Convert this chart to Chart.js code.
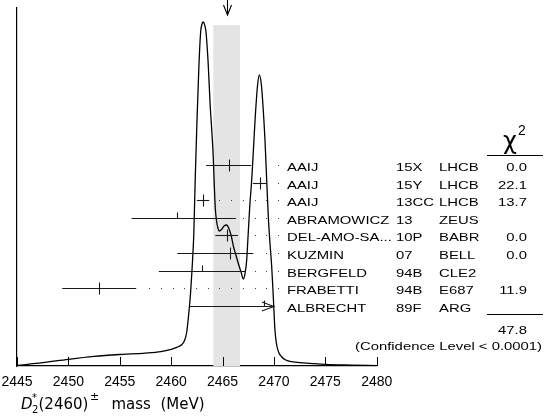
<!DOCTYPE html>
<html>
<head>
<meta charset="utf-8">
<script src="https://cdn.jsdelivr.net/npm/chart.js@4.4.0/dist/chart.umd.min.js"></script>
<style>
html, body { margin: 0; padding: 0; background: #fff; }
#chart { display: block; }
</style>
</head>
<body>
<canvas id="chart" width="549" height="418"></canvas>
<script>
// mass axis ticks (MeV)
var massTicks = [2445, 2450, 2455, 2460, 2465, 2470, 2475, 2480];

// ideogram curve
var curveMass = [2445.0, 2447.5, 2450.0, 2452.5, 2455.0, 2457.5, 2459.0, 2460.0, 2460.6, 2461.05,
    2461.3, 2461.5, 2461.65, 2461.85, 2462.05, 2462.2, 2462.35, 2462.5, 2462.7, 2462.87,
    2463.0, 2463.13, 2463.26, 2463.39, 2463.6, 2463.8, 2463.95, 2464.1, 2464.2, 2464.3,
    2464.42, 2464.55, 2464.68, 2464.9, 2465.15, 2465.4, 2465.6, 2465.85, 2466.05, 2466.3,
    2466.55, 2466.8, 2467.02, 2467.18, 2467.35, 2467.5, 2467.65, 2467.85, 2468.05, 2468.2,
    2468.4, 2468.58, 2468.78, 2468.95, 2469.13, 2469.3, 2469.45, 2469.6, 2469.78, 2469.94,
    2470.1, 2470.25, 2470.45, 2470.76, 2471.1, 2471.56, 2472.5, 2473.5, 2475.0, 2477.5, 2480.0];
var curveHeight = [0.5, 3.3, 6.7, 9.6, 11.5, 12.9, 14.4, 16.7, 18.8, 21.5,
    25.5, 33, 46, 68, 100, 131, 190, 241, 300, 334,
    342, 344, 341, 334, 303, 260, 236, 208, 180, 157,
    145, 138, 135, 136.5, 140, 141, 138, 130, 120, 111,
    102, 94, 87, 92, 106, 133, 160, 188, 225, 252,
    280, 291, 281, 258, 226, 185, 150, 125, 100, 69,
    36, 22, 14, 9, 6.3, 4.6, 3.4, 2.7, 1.7, 0.9, 0.3];

// measurements
var authors = ['AAIJ', 'AAIJ', 'AAIJ', 'ABRAMOWICZ', 'DEL-AMO-SA...', 'KUZMIN', 'BERGFELD', 'FRABETTI', 'ALBRECHT'];
var refs = ['15X', '15Y', '13CC', '13', '10P', '07', '94B', '94B', '89F'];
var expts = ['LHCB', 'LHCB', 'LHCB', 'ZEUS', 'BABR', 'BELL', 'CLE2', 'E687', 'ARG'];
var values = [2465.6, 2468.6, 2463.1, 2460.6, 2465.4, 2465.7, 2463.0, 2453.0, 2469.0];
var errLow = [2.2, 0.65, 0.6, 4.45, 1.1, 5.1, 4.2, 3.6, 7.2];
var errHigh = [2.2, 0.65, 0.6, 5.7, 1.1, 2.3, 4.2, 3.6, 7.2];
var chi2 = ['0.0', '22.1', '13.7', '', '0.0', '0.0', '', '11.9', ''];

var average = 2465.4;
var averageErr = 1.3;
var chi2Total = '47.8';
var confLevel = '(Confidence Level < 0.0001)';
var barLimit = 2470;

// layout of the rows (in y units of the plot)
var rowTop = 201, rowStep = 17.6, bandTop = 341;
var FONT = '"Liberation Sans", Arial, sans-serif';
var SX = 1.35;

function wideText(ctx, str, x, y, align) {
    ctx.save();
    ctx.translate(x, y);
    ctx.scale(SX, 1);
    ctx.textAlign = align || 'left';
    ctx.fillText(str, 0, 0);
    ctx.restore();
}

function line(ctx, x1, y1, x2, y2) {
    ctx.beginPath();
    ctx.moveTo(x1, y1);
    ctx.lineTo(x2, y2);
    ctx.stroke();
}

var ideogram = {
    id: 'ideogram',
    beforeDatasetsDraw: function(chart) {
        var ctx = chart.ctx, xs = chart.scales.x, ys = chart.scales.y;
        var x1 = xs.getPixelForValue(average - averageErr);
        var x2 = xs.getPixelForValue(average + averageErr);
        var top = ys.getPixelForValue(bandTop);
        ctx.save();
        ctx.fillStyle = '#e4e4e4';
        ctx.fillRect(x1, top, x2 - x1, chart.chartArea.bottom - top);
        ctx.restore();
    },
    afterDraw: function(chart) {
        var ctx = chart.ctx, xs = chart.scales.x, ys = chart.scales.y;
        var area = chart.chartArea;
        ctx.save();

        // inward ticks on the mass axis
        ctx.strokeStyle = '#000';
        ctx.lineWidth = 1;
        massTicks.forEach(function(m) {
            var px = Math.round(xs.getPixelForValue(m)) + 0.5;
            line(ctx, px, area.bottom, px, area.bottom - 9);
        });

        // arrow at the average
        var ax = Math.round(xs.getPixelForValue(average)) + 0.5;
        ctx.lineWidth = 1.1;
        line(ctx, ax, 0, ax, 15);
        ctx.beginPath();
        ctx.moveTo(ax - 4, 5);
        ctx.lineTo(ax, 15);
        ctx.lineTo(ax + 4, 5);
        ctx.stroke();

        var limitPx = xs.getPixelForValue(barLimit);
        var dotEnd = limitPx + 4;

        for (var i = 0; i < values.length; i++) {
            var y = Math.round(ys.getPixelForValue(rowTop - i * rowStep)) + 0.5;
            var lo = xs.getPixelForValue(values[i] - errLow[i]);
            var hi = xs.getPixelForValue(values[i] + errHigh[i]);
            var c = xs.getPixelForValue(values[i]);
            var used = chi2[i] !== '';
            ctx.strokeStyle = '#1a1a1a';
            ctx.lineWidth = 1.1;
            var end = Math.min(hi, limitPx);
            line(ctx, lo, y, end, y);
            if (hi > limitPx) {
                ctx.beginPath();
                ctx.moveTo(end - 12, y - 4.5);
                ctx.lineTo(end, y);
                ctx.lineTo(end - 12, y + 4.5);
                ctx.stroke();
            }
            var cx = Math.round(c) + 0.5;
            if (used) line(ctx, cx, y - 6, cx, y + 6);
            else line(ctx, cx, y - 6, cx, y);

            // dotted leader to the text
            ctx.fillStyle = '#444';
            for (var d = dotEnd; d > end + 5; d -= 11.7) {
                ctx.fillRect(Math.round(d), y - 0.5, 1, 1);
            }

            // row text
            ctx.fillStyle = '#000';
            ctx.font = '11px ' + FONT;
            ctx.textBaseline = 'alphabetic';
            var ty = y + 5;
            wideText(ctx, authors[i], 287, ty);
            wideText(ctx, refs[i], 396, ty);
            wideText(ctx, expts[i], 439, ty);
            if (used) wideText(ctx, chi2[i], 527, ty, 'right');
        }

        // chi2 column header and sum
        ctx.fillStyle = '#000';
        ctx.strokeStyle = '#000';
        ctx.lineWidth = 1;
        ctx.font = '24px "DejaVu Sans", sans-serif';
        ctx.textAlign = 'left';
        ctx.fillText('\u03c7', 503, 149);
        ctx.font = '14px ' + FONT;
        ctx.fillText('2', 518, 135);
        line(ctx, 487, 155.5, 543, 155.5);
        line(ctx, 487, 314.5, 543, 314.5);
        ctx.font = '11px ' + FONT;
        wideText(ctx, chi2Total, 527, 334, 'right');
        wideText(ctx, confLevel, 542, 350, 'right');

        // axis title
        var tf = '"DejaVu Sans", sans-serif';
        ctx.font = 'italic 15px ' + tf;
        ctx.fillText('D', 21, 408.5);
        ctx.font = '10px ' + tf;
        ctx.fillText('*', 32, 401);
        ctx.fillText('2', 32, 413);
        ctx.font = '15px ' + tf;
        ctx.fillText('(2460)', 38.5, 408.5);
        ctx.font = '11px ' + tf;
        ctx.fillText('\u00b1', 90, 400);
        ctx.font = '15px ' + tf;
        ctx.fillText('mass  (MeV)', 111.5, 408.5);

        ctx.restore();
    }
};

var ctx = document.getElementById('chart').getContext('2d');
new Chart(ctx, {
    type: 'line',
    data: {
        datasets: [{
            data: curveMass.map(function(m, i) { return { x: m, y: curveHeight[i] }; }),
            borderColor: '#000',
            borderWidth: 1.3,
            pointRadius: 0,
            fill: false,
            cubicInterpolationMode: 'monotone'
        }]
    },
    options: {
        responsive: false,
        animation: false,
        devicePixelRatio: 1,
        layout: { padding: { left: 17, right: 172.3, top: 8, bottom: 0 } },
        plugins: { legend: { display: false }, tooltip: { enabled: false } },
        scales: {
            x: {
                type: 'linear',
                min: 2445,
                max: 2480,
                afterBuildTicks: function(s) { s.ticks = massTicks.map(function(v) { return { value: v }; }); },
                afterFit: function(s) { s.height = 52; s.paddingLeft = 0; s.paddingRight = 0; },
                grid: { display: false, drawTicks: false },
                border: { display: true, color: '#000', width: 1.2 },
                ticks: {
                    color: '#000',
                    padding: 8,
                    font: { family: FONT, size: 14 },
                    callback: function(v) { return String(v); }
                }
            },
            y: {
                min: 0,
                max: 358,
                afterFit: function(s) { s.width = 0; },
                grid: { display: false, drawTicks: false },
                border: { display: true, color: '#000', width: 1.2 },
                ticks: { display: false }
            }
        }
    },
    plugins: [ideogram]
});
</script>
</body>
</html>
